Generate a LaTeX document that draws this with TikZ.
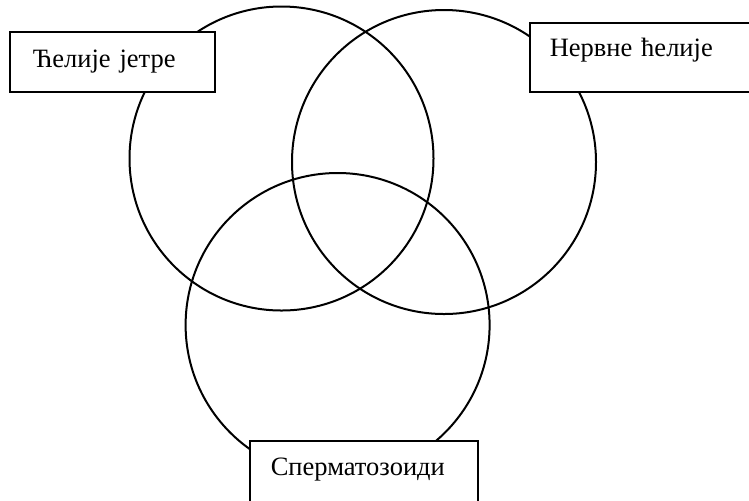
\documentclass[tikz,border=0pt]{standalone}
\usepackage{fontspec}
\setmainfont{Liberation Serif}
\usepackage{tikz}
\usetikzlibrary{positioning}

\begin{document}
\begin{tikzpicture}[
  x=0.5pt, y=-0.5pt,
  font=\fontsize{13.25}{16}\selectfont,
  set/.style={draw, circle, line width=1pt, minimum size=152pt, inner sep=0pt},
  lbl/.style={draw, fill=white, line width=0.8pt, anchor=north west,
              align=left, inner ysep=0pt},
]
\clip (0,0) rectangle (749,500);

% skupovi
\node[set] (jetra) at (281.5,158.5) {};
\node[set] (nervi) at (444,162) {};
\node[set] (sperma) at (337.6,325) {};

% natpisi
\node[lbl, inner xsep=11.5pt, text width=79.5pt, text height=18pt, text depth=12pt]
  (jetraLbl) at (9,31) {Ћелије јетре};
\node[lbl, inner xsep=10pt, text width=91.5pt, text height=17pt, text depth=17.5pt]
  (nerviLbl) at (529,22) {Нервне ћелије};
\node[lbl, inner xsep=10.5pt, text width=93pt, text height=17.5pt, text depth=13.5pt]
  (spermaLbl) at (249,440) {Сперматозоиди};
\end{tikzpicture}
\end{document}
